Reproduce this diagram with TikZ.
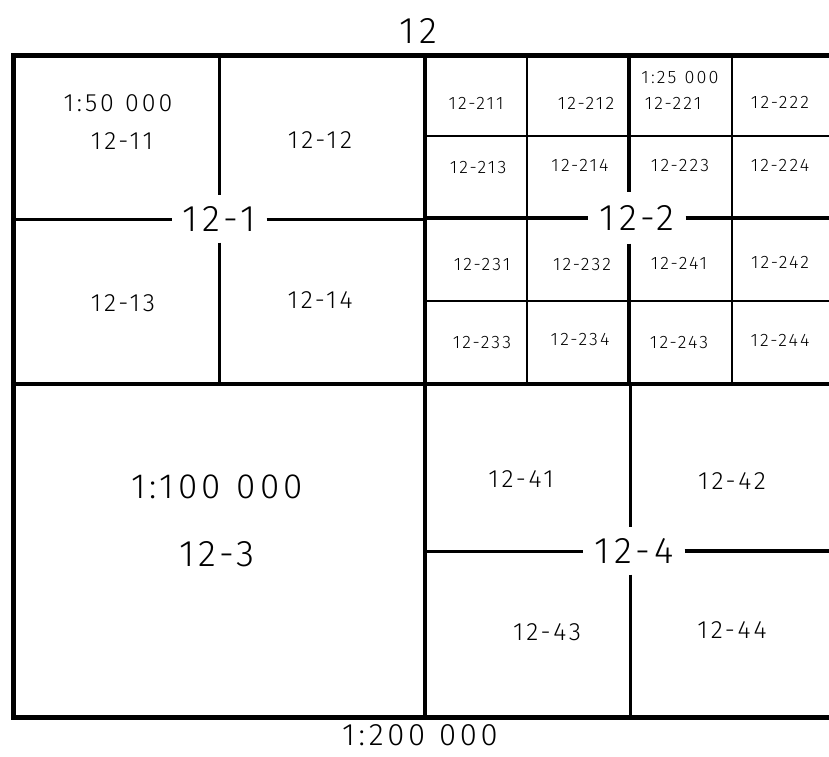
\documentclass[tikz,border=0pt]{standalone}
\usepackage{fontspec}
\setmainfont{Fira Sans Light}[LetterSpace=12]
\newcommand{\fsz}[1]{\fontsize{#1}{#1}\selectfont}
\newcommand{\gp}{\hspace{0.45em}}
\begin{document}
\begin{tikzpicture}[x=1pt,y=-1pt,
  frame/.style={line width=5pt},
  heavy/.style={line width=4pt},
  mid/.style={line width=3pt},
  thin/.style={line width=2pt},
  big/.style={font=\fsz{37}, inner sep=0pt},
  bigcut/.style={font=\fsz{37}, inner xsep=11pt, inner ysep=11pt},
  medlab/.style={font=\fsz{25}, inner sep=0pt},
  smlab/.style={font=\fsz{18}, inner sep=0pt}]
\useasboundingbox (0,0) rectangle (829,756);
% outer frame
\coordinate (TL) at (13,55);
\coordinate (TR) at (832,55);
\coordinate (BL) at (13,717);
\coordinate (BR) at (832,717);
\draw[frame] (TR) -- (TL) -- (BL) -- (BR);
% main cross
\coordinate (Mtop) at (425,55);
\coordinate (Mbot) at (425,717);
\coordinate (Mleft) at (13,384);
\coordinate (Mright) at (832,384);
\draw[heavy] (Mtop) -- (Mbot);
\draw[heavy] (Mleft) -- (Mright);
% titles
\node[big] (t12) at (418,31) {12};
\node[font=\fsz{31}, inner sep=0pt] (t200) at (420,735) {1:200\gp000};
% ---- 12-1
\node[bigcut] (n121) at (219,219) {12-1};
\coordinate (a1t) at (219,55);
\coordinate (a1b) at (219,384);
\coordinate (a1l) at (13,219);
\coordinate (a1r) at (425,219);
\draw[mid] (a1t) -- (a1t |- n121.north);
\draw[mid] (a1b |- n121.south) -- (a1b);
\draw[mid] (a1l) -- (n121.west);
\draw[mid] (n121.east) -- (a1r);
\node[medlab] (s50) at (118,103) {1:50\gp000};
\node[medlab] (n1211) at (122,141) {12-11};
\node[medlab] (n1212) at (320,140) {12-12};
\node[medlab] (n1213) at (123,303) {12-13};
\node[medlab] (n1214) at (320,300) {12-14};
% ---- 12-2
\node[bigcut, inner ysep=13pt] (n122) at (637,218) {12-2};
\coordinate (b2t) at (629,55);
\coordinate (b2b) at (629,384);
\coordinate (b2l) at (425,218);
\coordinate (b2r) at (832,218);
\draw[heavy] (b2t) -- (b2t |- n122.north);
\draw[heavy] (b2b |- n122.south) -- (b2b);
\draw[heavy] (b2l) -- (n122.west);
\draw[heavy] (n122.east) -- (b2r);
\coordinate (v1t) at (527,55);
\coordinate (v1b) at (527,384);
\coordinate (v3t) at (732,55);
\coordinate (v3b) at (732,384);
\coordinate (h1l) at (425,136);
\coordinate (h1r) at (832,136);
\coordinate (h3l) at (425,301);
\coordinate (h3r) at (832,301);
\draw[thin] (v1t) -- (v1b);
\draw[thin] (v3t) -- (v3b);
\draw[thin] (h1l) -- (h1r);
\draw[thin] (h3l) -- (h3r);
\node[smlab] (s25) at (680,78) {1:25\gp000};
\node[smlab] (n12211) at (476,103) {12-211};
\node[smlab] (n12212) at (586,103) {12-212};
\node[smlab] (n12221) at (673,103) {12-221};
\node[smlab] (n12222) at (780,102) {12-222};
\node[smlab] (n12213) at (478,168) {12-213};
\node[smlab] (n12214) at (580,165) {12-214};
\node[smlab] (n12223) at (680,166) {12-223};
\node[smlab] (n12224) at (780,165) {12-224};
\node[smlab] (n12231) at (482,265) {12-231};
\node[smlab] (n12232) at (582,265) {12-232};
\node[smlab] (n12241) at (679,263) {12-241};
\node[smlab] (n12242) at (780,262) {12-242};
\node[smlab] (n12233) at (482,343) {12-233};
\node[smlab] (n12234) at (580,340) {12-234};
\node[smlab] (n12243) at (679,343) {12-243};
\node[smlab] (n12244) at (780,340) {12-244};
% ---- 12-3
\node[font=\fsz{35}, inner sep=0pt] (s100) at (217,487) {1:100\gp000};
\node[big] (n123) at (217,554) {12-3};
% ---- 12-4
\node[bigcut, inner ysep=11pt] (n124) at (634,551) {12-4};
\coordinate (d4t) at (630,384);
\coordinate (d4b) at (630,717);
\coordinate (d4l) at (425,551);
\coordinate (d4r) at (832,551);
\draw[mid] (d4t) -- (d4t |- n124.north);
\draw[mid] (d4b |- n124.south) -- (d4b);
\draw[mid] (d4l) -- (n124.west);
\draw[heavy] (n124.east) -- (d4r);
\node[medlab] (n1241) at (521,479) {12-41};
\node[medlab] (n1242) at (732,481) {12-42};
\node[medlab] (n1243) at (547,632) {12-43};
\node[medlab] (n1244) at (732,630) {12-44};
\end{tikzpicture}
\end{document}
